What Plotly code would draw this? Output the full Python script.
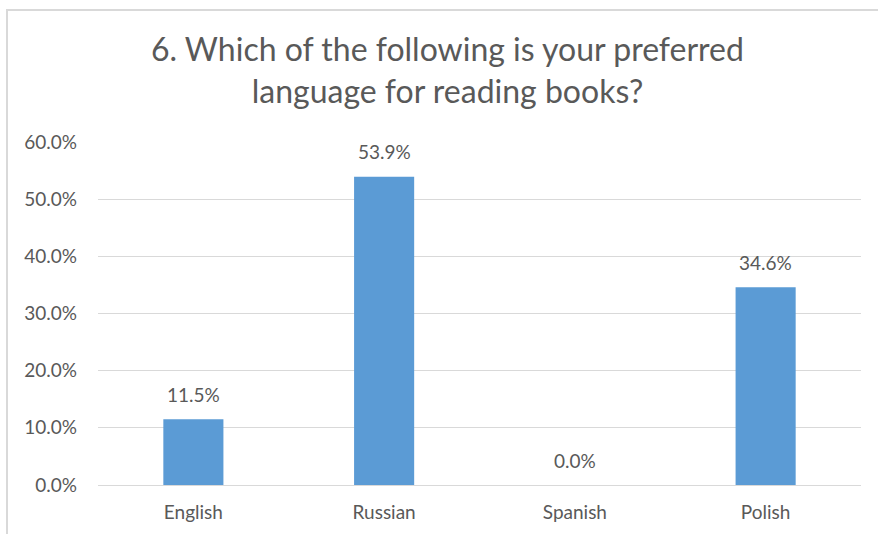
import plotly.graph_objects as go

categories = ["English", "Russian", "Spanish", "Polish"]
shares = [11.5, 53.9, 0.0, 34.6]
y_ticks = [0, 10, 20, 30, 40, 50, 60]
y_tick_labels = [f"{v:.1f}%" for v in y_ticks]
title_lines = ["6. Which of the following is your preferred", "language for reading books?"]

TEXT = "#595959"
FONT = "Lato"

fig = go.Figure(
    go.Bar(
        x=categories,
        y=shares,
        width=0.315,
        marker=dict(color="#5B9BD5", line=dict(width=0)),
        hoverinfo="skip",
    )
)

# value labels sitting above each bar
value_labels = [
    dict(
        x=c, y=v, xref="x", yref="y",
        text=f"{v:.1f}%",
        showarrow=False,
        yanchor="middle", yshift=25,
        font=dict(family=FONT, size=19, color=TEXT),
    )
    for c, v in zip(categories, shares)
]

fig.update_layout(
    width=878,
    height=534,
    margin=dict(l=98, r=17, t=142, b=49),
    paper_bgcolor="white",
    plot_bgcolor="white",
    showlegend=False,
    font=dict(family=FONT, color=TEXT),
    xaxis=dict(
        showgrid=False,
        showline=False,
        ticks="",
        ticklabelstandoff=14,
        tickfont=dict(family=FONT, size=19, color=TEXT),
        range=[-0.5, 3.5],
    ),
    yaxis=dict(
        range=[0, 60],
        tickvals=y_ticks,
        ticktext=y_tick_labels,
        showgrid=True,
        gridcolor="#D9D9D9",
        gridwidth=1,
        zeroline=True,
        zerolinecolor="#D9D9D9",
        zerolinewidth=1,
        showline=False,
        ticks="",
        ticklabelstandoff=20,
        tickfont=dict(family=FONT, size=19, color=TEXT),
    ),
    annotations=value_labels + [
        dict(
            text="<br>".join(title_lines),
            xref="paper", yref="paper",
            x=(447 - 98) / 763, y=1.0, yshift=115,
            xanchor="center", yanchor="top",
            showarrow=False,
            font=dict(family=FONT, size=32, color=TEXT),
        )
    ],
    shapes=[
        dict(
            type="rect", xref="paper", yref="paper",
            x0=-91 / 763, x1=1.1, y0=-0.2, y1=1 + 132 / 343,
            line=dict(color="#D9D9D9", width=2),
            fillcolor="rgba(0,0,0,0)",
            layer="below",
        )
    ],
)

fig.write_html("out.html")
